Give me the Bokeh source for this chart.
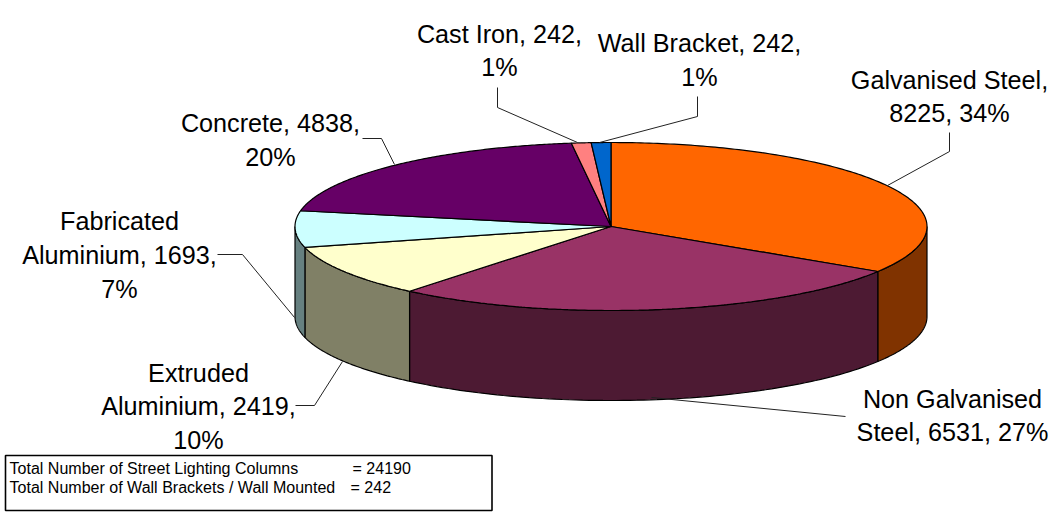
import numpy as np
from bokeh.plotting import figure
from bokeh.embed import file_html
from bokeh.resources import INLINE
from bokeh.core.properties import value
from bokeh.models import Range1d

names = ["Galvanised Steel", "Non Galvanised Steel", "Extruded Aluminium", "Fabricated Aluminium", "Concrete", "Cast Iron", "Wall Bracket"]
values = [8225, 6531, 2419, 1693, 4838, 242, 242]
top_colors = ["#FF6600", "#993366", "#FFFFCC", "#CCFFFF", "#660066", "#FF8080", "#0066CC"]
side_colors = ["#803300", "#4D1A33", "#808066", "#668080", "#330033", "#804040", "#003366"]

label_lines = [
    ["Galvanised Steel,", "8225, 34%"],
    ["Non Galvanised", "Steel, 6531, 27%"],
    ["Extruded", "Aluminium, 2419,", "10%"],
    ["Fabricated", "Aluminium, 1693,", "7%"],
    ["Concrete, 4838,", "20%"],
    ["Cast Iron, 242,", "1%"],
    ["Wall Bracket, 242,", "1%"],
]
label_x = [949, 952, 198, 119, 270, 499, 699]
label_y = [[79, 112], [398, 431], [372, 405, 439], [220, 254, 288], [122, 156], [33, 66], [42, 76]]
leaders = [
    ([887, 949, 949], [185, 151, 132]),
    ([651, 845], [397, 416]),
    ([342, 314, 295], [361, 405, 405]),
    ([294, 242, 217], [317, 254, 254]),
    ([394, 381, 362], [164, 138, 138]),
    ([577, 497, 497], [142, 107, 87]),
    ([599, 697, 697], [142, 116, 96]),
]
note_lines = ["Total Number of Street Lighting Columns", "Total Number of Wall Brackets / Wall Mounted"]
note_vals = ["= 24190", "= 242"]
note_val_x = [352, 350]

cx, cy, a, b, depth = 610.5, 226.0, 316.0, 84.0, 90.0
FONT = "Liberation Sans"

p = figure(width=1060, height=513, output_backend="svg", toolbar_location=None,
           x_range=Range1d(0, 1060), y_range=Range1d(513, 0), min_border=0,
           outline_line_color=None)
p.axis.visible = False
p.grid.visible = False
p.background_fill_color = "white"
p.border_fill_color = "white"

shares = np.array(values) / sum(values) * 2 * np.pi
ends = np.pi / 2 - np.cumsum(shares)
starts = ends + shares

def ex(t): return cx + a * np.cos(t)
def ey(t, dz=0.0): return cy - b * np.sin(t) + dz

# side walls: visible lower half of the ellipse
for s, e, col in zip(starts, ends, side_colors):
    lo = max(e, -np.pi)
    hi = min(s, 0.0)
    if hi <= lo:
        continue
    t = np.linspace(hi, lo, 80)
    xs = np.concatenate([ex(t), ex(t[::-1])])
    ys = np.concatenate([ey(t), ey(t[::-1], depth)])
    p.patch(xs, ys, fill_color=col, line_color="black", line_width=1.2)

# top faces
for s, e, col in zip(starts, ends, top_colors):
    t = np.linspace(s, e, 160)
    xs = np.concatenate([[cx], ex(t)])
    ys = np.concatenate([[cy], ey(t)])
    p.patch(xs, ys, fill_color=col, line_color="black", line_width=1.2)

for (lx, ly) in leaders:
    p.line(lx, ly, line_color="#222222", line_width=1)

for lines, x, ys in zip(label_lines, label_x, label_y):
    p.text([x] * len(lines), ys, text=lines, text_font=value(FONT), text_font_size="25.2px",
           text_align="center", text_baseline="middle", text_color="black")

p.quad(left=[5], right=[491.5], top=[455], bottom=[510], fill_color="white", line_color="black", line_width=1.6)
p.text([9, 9], [467, 486], text=note_lines, text_font=value(FONT), text_font_size="16.05px",
       text_align="left", text_baseline="middle", text_color="black")
p.text(note_val_x, [467, 486], text=note_vals, text_font=value(FONT), text_font_size="16.05px",
       text_align="left", text_baseline="middle", text_color="black")

open("out.html", "w").write(file_html(p, INLINE))
